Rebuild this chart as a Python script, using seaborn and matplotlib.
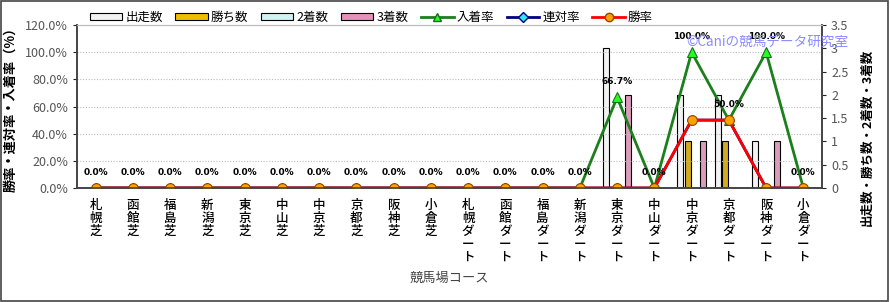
import numpy as np
import pandas as pd
import matplotlib
matplotlib.use("Agg")
import matplotlib.pyplot as plt
from matplotlib.patches import Patch, Rectangle
from matplotlib.lines import Line2D
from matplotlib.ticker import FuncFormatter
import seaborn as sns

plt.rcParams['font.family'] = ['Noto Sans CJK JP', 'DejaVu Sans']

courses = ["札幌芝", "函館芝", "福島芝", "新潟芝", "東京芝", "中山芝", "中京芝", "京都芝", "阪神芝", "小倉芝",
           "札幌ダート", "函館ダート", "福島ダート", "新潟ダート", "東京ダート", "中山ダート",
           "中京ダート", "京都ダート", "阪神ダート", "小倉ダート"]
starts = [0, 0, 0, 0, 0, 0, 0, 0, 0, 0, 0, 0, 0, 0, 3, 0, 2, 2, 1, 0]
wins = [0, 0, 0, 0, 0, 0, 0, 0, 0, 0, 0, 0, 0, 0, 0, 0, 1, 1, 0, 0]
seconds = [0, 0, 0, 0, 0, 0, 0, 0, 0, 0, 0, 0, 0, 0, 0, 0, 0, 0, 0, 0]
thirds = [0, 0, 0, 0, 0, 0, 0, 0, 0, 0, 0, 0, 0, 0, 2, 0, 1, 0, 1, 0]
place_rate = [0, 0, 0, 0, 0, 0, 0, 0, 0, 0, 0, 0, 0, 0, 66.7, 0, 100.0, 50.0, 100.0, 0]
rentai_rate = [0, 0, 0, 0, 0, 0, 0, 0, 0, 0, 0, 0, 0, 0, 0, 0, 50.0, 50.0, 0, 0]
win_rate = [0, 0, 0, 0, 0, 0, 0, 0, 0, 0, 0, 0, 0, 0, 0, 0, 50.0, 50.0, 0, 0]

bar_names = ["出走数", "勝ち数", "2着数", "3着数"]
bar_colors = ["#F2F2F2", "#F0BE00", "#CFF3F3", "#E890BC"]

df = pd.DataFrame({
    "course": courses * 4,
    "kind": sum([[n] * len(courses) for n in bar_names], []),
    "count": starts + wins + seconds + thirds,
})

fig = plt.figure(figsize=(8.9, 3.02), dpi=100)
fig.patch.set_facecolor("white")
fig.patches.append(Rectangle((0.001, 0.002), 0.997, 0.995, transform=fig.transFigure,
                             fill=False, edgecolor="#444444", linewidth=1.2))

ax = fig.add_axes([0.0865, 0.3775, 0.8371, 0.5395])
ax2 = ax.twinx()

# bars on the secondary (count) axis, drawn behind
sns.barplot(data=df, x="course", y="count", hue="kind", order=courses, hue_order=bar_names,
            palette=bar_colors, ax=ax2, width=0.8, gap=0.2, edgecolor="black",
            linewidth=0.8, errorbar=None, legend=False)
ax2.set_facecolor("#FBF1DC")
ax2.set_ylim(0, 3.5)
ax2.set_yticks(np.arange(0, 3.51, 0.5))
ax2.yaxis.set_major_formatter(FuncFormatter(lambda v, p: f"{v:g}"))
ax2.set_ylabel("出走数・勝ち数・2着数・3着数", fontsize=9, fontweight="bold", rotation=90)
ax2.yaxis.set_label_coords(1.052, 0.31)
ax2.tick_params(axis="y", labelsize=9, colors="#222222", labelcolor="#555555", length=3)
# grid matching the left axis 20% steps
ax2.set_yticks([k * 20 * 3.5 / 120 for k in range(7)], minor=True)
ax2.tick_params(axis="y", which="minor", length=0)
ax2.grid(which="minor", axis="y", color="#BBBBBB", linestyle=(0, (1, 1.5)), linewidth=0.8)

# lines on the primary (percent) axis, drawn on top
ax.set_zorder(ax2.get_zorder() + 1)
ax.patch.set_visible(False)

sns.pointplot(x=courses, y=place_rate, ax=ax, color="#1B7F1B", markers="^", linestyles="-",
              errorbar=None, linewidth=2, markersize=7, markerfacecolor="#22FF22",
              markeredgecolor="#1B6F1B", markeredgewidth=0.8)
sns.pointplot(x=courses, y=rentai_rate, ax=ax, color="#000080", markers="D", linestyles="-",
              errorbar=None, linewidth=2, markersize=5, markerfacecolor="#33E5F0",
              markeredgecolor="#000080", markeredgewidth=0.8)
sns.pointplot(x=courses, y=win_rate, ax=ax, color="#FF0000", markers="o", linestyles="-",
              errorbar=None, linewidth=2, markersize=7, markerfacecolor="#FFA000",
              markeredgecolor="#8B4A00", markeredgewidth=0.8)

for i, v in enumerate(place_rate):
    ax.annotate(f"{v:.1f}%", (i, v), xytext=(0, 11.5), textcoords="offset points",
                ha="center", va="center", fontsize=6.5, fontweight="bold",
                family=["DejaVu Sans"], color="black", zorder=10)

ax.set_xlim(-0.5, len(courses) - 0.5)
ax.set_ylim(0, 120)
ax.set_yticks(np.arange(0, 121, 20))
ax.yaxis.set_major_formatter(FuncFormatter(lambda v, p: f"{v:.1f}%"))
ax.tick_params(axis="y", labelsize=9, colors="#222222", labelcolor="#555555", length=3)
ax.set_xticks(range(len(courses)))
ax.set_xticklabels(["\n".join(c) for c in courses], fontsize=9, linespacing=0.98,
                   color="black", va="top", fontweight="medium")
ax.tick_params(axis="x", length=0, pad=8)
ax.set_xticks(np.arange(-0.5, len(courses), 1), minor=True)
ax.tick_params(axis="x", which="minor", length=0)
ax2.grid(which="minor", axis="x", color="#BBBBBB", linestyle=(0, (1, 1.5)), linewidth=0.8)
ax.set_xlabel("競馬場コース", fontsize=9.5, color="#444444", labelpad=6)
ax.set_ylabel("勝率・連対率・入着率（%）", fontsize=9.5, fontweight="bold")
ax.yaxis.set_label_coords(-0.08, 0.5)

for a in (ax, ax2):
    for s in ("left", "right", "bottom"):
        a.spines[s].set_color("#444444")
        a.spines[s].set_linewidth(1.2)
    a.spines["top"].set_color("#BBBBBB")
    a.spines["top"].set_linewidth(0.8)

ax.text(0.818, 0.895, "©Caniの競馬データ研究室", transform=ax.transAxes, fontsize=9.8,
        color="#8C8CFF", ha="left", va="center", zorder=11)

handles = [Patch(facecolor=c, edgecolor="black", linewidth=0.8) for c in bar_colors]
handles += [
    Line2D([], [], color="#1B7F1B", lw=2, marker="^", ms=6, mfc="#22FF22", mec="#1B6F1B"),
    Line2D([], [], color="#000080", lw=2, marker="D", ms=5, mfc="#33E5F0", mec="#000080"),
    Line2D([], [], color="#FF0000", lw=2, marker="o", ms=6, mfc="#FFA000", mec="#8B4A00"),
]
labels = bar_names + ["入着率", "連対率", "勝率"]
fig.legend(handles, labels, loc="upper left", bbox_to_anchor=(0.088, 1.0), ncol=7,
           frameon=False, fontsize=9, handlelength=2.6, handleheight=0.45,
           handletextpad=0.25, columnspacing=1.0)

fig.savefig("out.png", dpi=100)
